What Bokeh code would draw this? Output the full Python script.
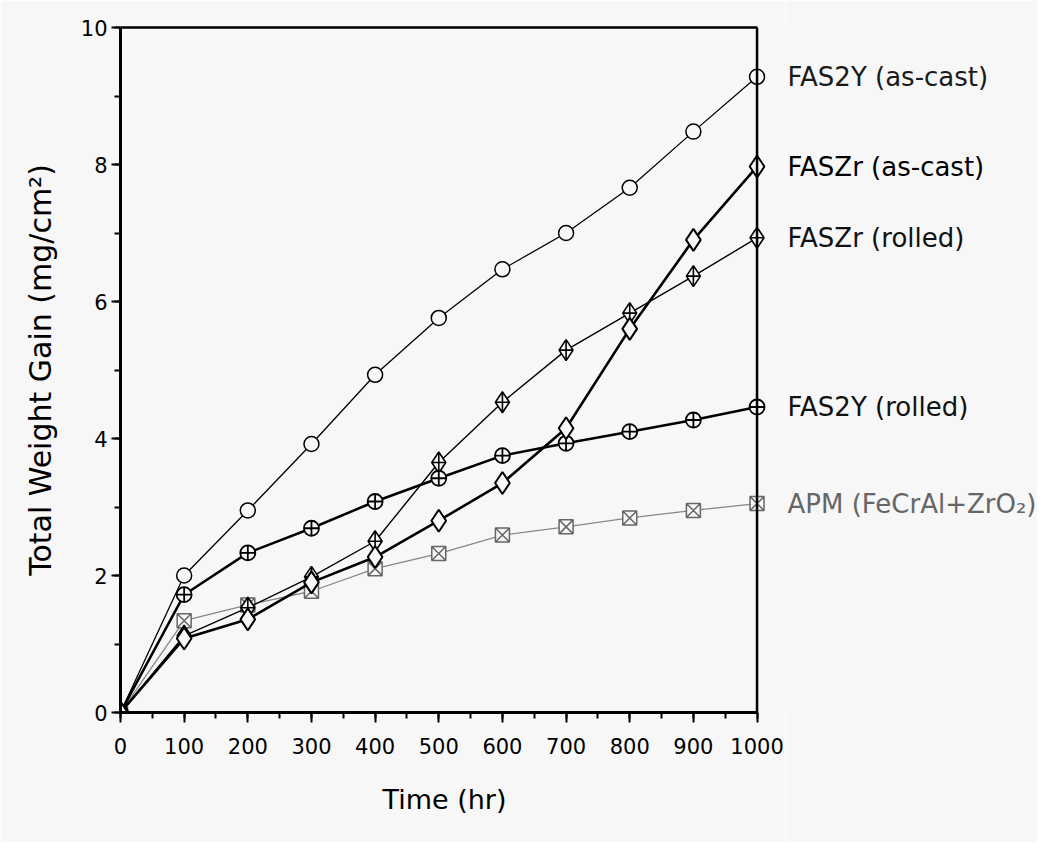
from bokeh.plotting import figure
from bokeh.layouts import row
from bokeh.models import Range1d, SingleIntervalTicker, FixedTicker, LinearAxis, Span
from bokeh.core.properties import value
from bokeh.embed import file_html
from bokeh.resources import INLINE

# ---- data ----
time_hr = [0, 100, 200, 300, 400, 500, 600, 700, 800, 900, 1000]
fas2y_cast = [0, 2.0, 2.95, 3.92, 4.93, 5.76, 6.47, 7.0, 7.66, 8.48, 9.28]
faszr_cast = [0, 1.08, 1.36, 1.9, 2.27, 2.8, 3.35, 4.15, 5.6, 6.9, 7.97]
faszr_rolled = [0, 1.12, 1.53, 1.98, 2.5, 3.65, 4.53, 5.29, 5.83, 6.37, 6.93]
fas2y_rolled = [0, 1.72, 2.33, 2.69, 3.08, 3.42, 3.75, 3.93, 4.1, 4.27, 4.46]
apm = [0, 1.34, 1.57, 1.77, 2.1, 2.32, 2.59, 2.71, 2.84, 2.95, 3.05]

series_names = ["FAS2Y (as-cast)", "FASZr (as-cast)", "FASZr (rolled)",
                "FAS2Y (rolled)", "APM (FeCrAl+ZrO\u2082)"]
x_ticks = list(range(0, 1001, 100))

BG = "#f7f7f7"
FONT = "DejaVu Sans"

p = figure(
    frame_width=648, frame_height=685,
    min_border_left=120, min_border_top=27, min_border_right=17, min_border_bottom=130,
    x_range=Range1d(0, 1018), y_range=Range1d(0, 10),
    output_backend="svg", toolbar_location=None,
    background_fill_color=BG, border_fill_color=BG,
)
p.outline_line_color = None
p.xgrid.visible = False
p.ygrid.visible = False

xa = p.xaxis[0]
xa.ticker = SingleIntervalTicker(interval=100, num_minor_ticks=2)
xa.bounds = (x_ticks[0], x_ticks[-1])
xa.axis_label = "Time (hr)"
ya = p.yaxis[0]
ya.ticker = SingleIntervalTicker(interval=2, num_minor_ticks=2)
ya.axis_label = "Total Weight Gain (mg/cm\u00b2)"

for ax in (xa, ya):
    ax.axis_line_width = 3
    ax.axis_line_color = "black"
    ax.major_tick_in = 0
    ax.minor_tick_in = 0
    ax.major_tick_line_width = 2
    ax.minor_tick_line_width = 2
    ax.major_label_text_font = FONT
    ax.major_label_text_color = "black"
    ax.axis_label_text_font = FONT
    ax.axis_label_text_font_style = "normal"
    ax.axis_label_text_color = "black"

xa.major_tick_out = 10
xa.minor_tick_out = 6
xa.major_label_text_font_size = "21px"
xa.major_label_standoff = 15
xa.axis_label_text_font_size = "27px"
xa.axis_label_standoff = 27

ya.major_tick_out = 9
ya.minor_tick_out = 6
ya.major_label_text_font_size = "21px"
ya.major_label_standoff = 4
ya.axis_label_text_font_size = "30px"
ya.axis_label_standoff = 20

# box border on top (up to 1000 hr) and on the right (at 1000 hr)
top_ax = LinearAxis(bounds=(x_ticks[0], x_ticks[-1]), ticker=FixedTicker(ticks=[]),
                    axis_line_width=2.5, axis_line_color="black",
                    major_tick_out=0, minor_tick_out=0)
p.add_layout(top_ax, "above")
p.add_layout(Span(location=x_ticks[-1], dimension="height",
                  line_color="black", line_width=2.5))

# ---- series ----
p.line(time_hr, apm, line_color="#888888", line_width=1.3)
p.scatter(time_hr, apm, marker="square_x", size=14, line_color="#666666",
          line_width=1.5, fill_color=BG)

p.line(time_hr, fas2y_cast, line_color="black", line_width=1.3)
p.scatter(time_hr, fas2y_cast, marker="circle", size=15, line_color="black",
          line_width=1.5, fill_color=BG)

p.line(time_hr, faszr_rolled, line_color="black", line_width=1.4)
p.scatter(time_hr, faszr_rolled, marker="diamond_cross", size=21, line_color="black",
          line_width=1.6, fill_color=BG)

p.line(time_hr, fas2y_rolled, line_color="black", line_width=2.5)
p.scatter(time_hr, fas2y_rolled, marker="circle_cross", size=15, line_color="black",
          line_width=1.8, fill_color=BG)

p.line(time_hr, faszr_cast, line_color="black", line_width=2.6)
p.scatter(time_hr, faszr_cast, marker="diamond", size=22, line_color="black",
          line_width=2.0, fill_color=BG)

# ---- end labels in a side panel sharing the y scale ----
ends = [fas2y_cast[-1], faszr_cast[-1], faszr_rolled[-1], fas2y_rolled[-1], apm[-1]]
colors = ["#1a1a1a", "black", "#111111", "#111111", "#666666"]

q = figure(
    frame_width=252, frame_height=685,
    min_border_left=0, min_border_top=27, min_border_right=0, min_border_bottom=130,
    x_range=Range1d(0, 1), y_range=p.y_range,
    x_axis_type=None, y_axis_type=None,
    output_backend="svg", toolbar_location=None,
    background_fill_color=BG, border_fill_color=BG,
)
q.outline_line_color = None
q.xgrid.visible = False
q.ygrid.visible = False
q.text(x=[0] * len(ends), y=ends, text=series_names, x_offset=2,
       text_baseline="middle", text_align="left",
       text_font=value(FONT), text_font_size="26px", text_color=colors)

layout = row(p, q, spacing=0)
open("out.html", "w").write(file_html(layout, INLINE))
